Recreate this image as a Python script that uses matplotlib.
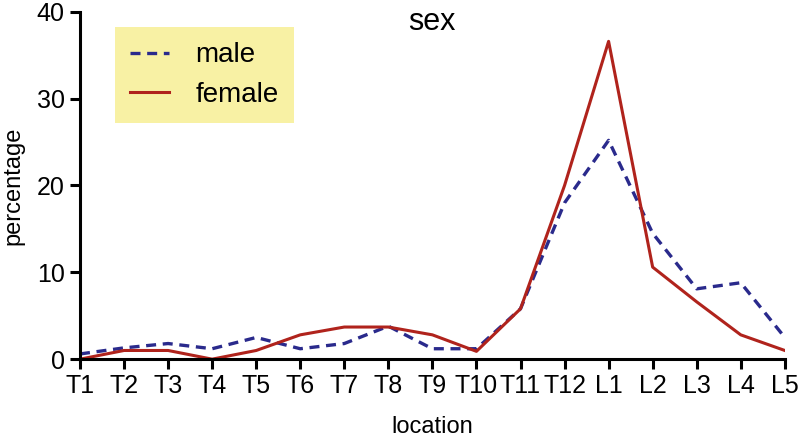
import matplotlib.pyplot as plt

# data
locations = ['T1', 'T2', 'T3', 'T4', 'T5', 'T6', 'T7', 'T8', 'T9', 'T10', 'T11', 'T12',
             'L1', 'L2', 'L3', 'L4', 'L5']
male = [0.6, 1.3, 1.8, 1.2, 2.5, 1.2, 1.8, 3.8, 1.2, 1.2, 5.8, 18.0, 25.2, 14.5, 8.1, 8.8, 2.5]
female = [0.0, 1.0, 1.0, 0.0, 1.0, 2.8, 3.7, 3.7, 2.8, 0.9, 5.8, 20.0, 36.6, 10.6, 6.6, 2.8, 1.0]

plt.rcParams['font.family'] = ['Liberation Sans', 'DejaVu Sans']

fig = plt.figure(figsize=(8, 4.38), dpi=100)
ax = fig.add_axes([0.1, 0.18, 0.881, 0.793])

x = list(range(len(locations)))
ax.plot(x, male, color='#2a2a8c', linestyle=(0, (3, 2)), linewidth=2.4, label='male')
ax.plot(x, female, color='#b0231c', linewidth=2.2, label='female')

ax.set_xlim(0, len(locations) - 1)
ax.set_ylim(0, 40)
ax.set_xticks(x)
ax.set_xticklabels(locations)
ax.set_yticks([0, 10, 20, 30, 40])

for s in ['top', 'right']:
    ax.spines[s].set_visible(False)
for s in ['left', 'bottom']:
    ax.spines[s].set_linewidth(2.2)
ax.tick_params(axis='both', which='major', labelsize=18, width=2.2, length=7,
               direction='out', pad=4)

ax.set_xlabel('location', fontsize=17, labelpad=13)
ax.set_ylabel('percentage', fontsize=17, labelpad=9)
fig.text(432 / 800, 1 - 22 / 438, 'sex', fontsize=22, ha='center', va='center')

leg = ax.legend(loc='upper left', bbox_to_anchor=(115 / 800, 1 - 27 / 438),
                bbox_transform=fig.transFigure, borderaxespad=0,
                fontsize=20, frameon=True, fancybox=False, handlelength=1.4,
                borderpad=0.55, labelspacing=0.5, handletextpad=0.95)
leg.get_frame().set_facecolor('#f8f1a4')
leg.get_frame().set_edgecolor('none')
leg.get_frame().set_alpha(1)

fig.savefig('out.png', dpi=100)
